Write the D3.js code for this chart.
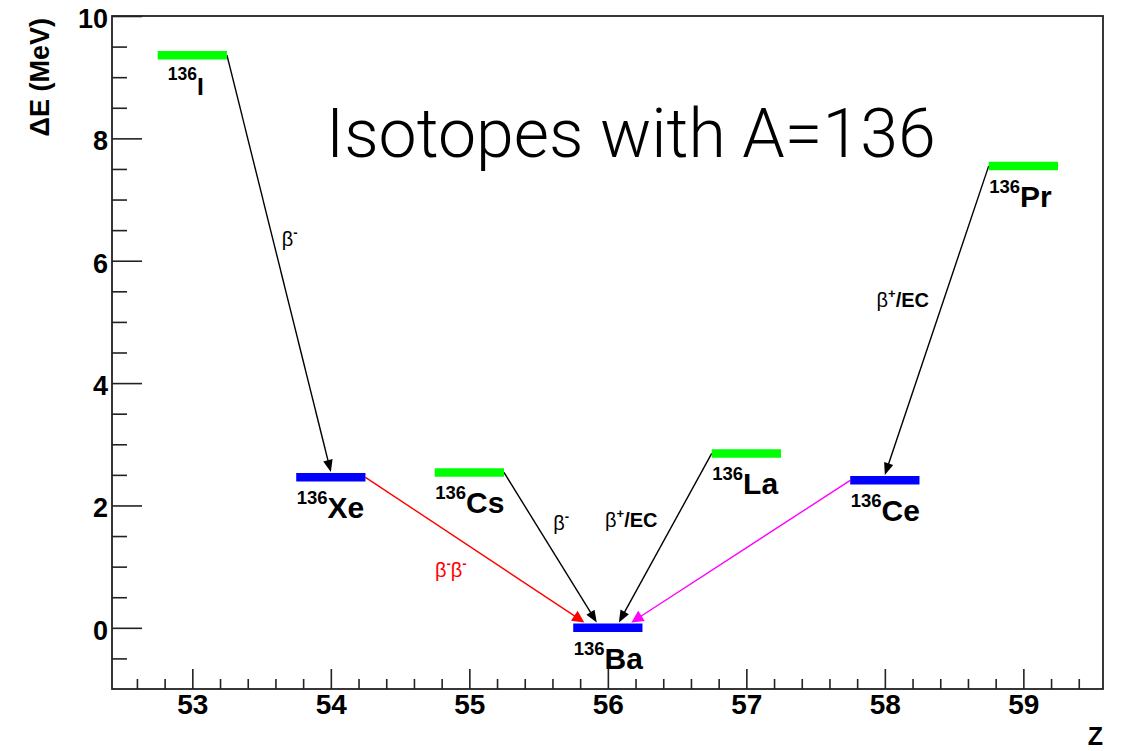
<!DOCTYPE html>
<html>
<head>
<meta charset="utf-8">
<script src="https://cdn.jsdelivr.net/npm/d3@7"></script>
<style>
  html, body { margin: 0; padding: 0; background: #fff; }
  svg { display: block; }
</style>
</head>
<body>
<script>
// Nuclides of the A = 136 isobar chain
const isotopes    = ["I", "Xe", "Cs", "Ba", "La", "Ce", "Pr"];
const protonZ     = [53, 54, 55, 56, 57, 58, 59];
const deltaE      = [9.36, 2.46, 2.54, 0.00, 2.85, 2.41, 7.55];   // MeV above 136Ba
const betaStable  = [false, true, false, true, false, true, false];
const massNumber  = "136";

// Decay transitions
const decayFrom   = ["I", "Xe", "Cs", "La", "Ce", "Pr"];
const decayTo     = ["Xe", "Ba", "Ba", "Ba", "Ba", "Ce"];
const arrivalZ    = [54.0, 55.83, 55.92, 56.08, 56.17, 58.0];
const decayKind   = ["single", "double", "single", "single", "double", "single"];

// Decay-mode annotations: [Z, ΔE] anchor, text parts
const modeLabelZ  = [53.645, 54.752, 55.606, 55.98, 57.94];
const modeLabelE  = [6.24, 0.83, 1.60, 1.64, 5.25];
const modeLabels  = [
  [["β", "n"], ["-", "s"]],
  [["β", "n"], ["-", "s"], ["β", "n"], ["-", "s"]],
  [["β", "n"], ["-", "s"]],
  [["β", "n"], ["+", "s"], ["/EC", "b"]],
  [["β", "n"], ["+", "s"], ["/EC", "b"]]
];
const modeLabelRed = [false, true, false, false, false];

// Axes
const zDomain = [52.42, 59.575];
const eDomain = [-1, 10];
const zMajor = [53, 54, 55, 56, 57, 58, 59];
const zMinor = [52.6, 52.8, 53.2, 53.4, 53.6, 53.8, 54.2, 54.4, 54.6, 54.8, 55.2, 55.4, 55.6, 55.8,
                56.2, 56.4, 56.6, 56.8, 57.2, 57.4, 57.6, 57.8, 58.2, 58.4, 58.6, 58.8, 59.2, 59.4];
const eMajor = [0, 2, 4, 6, 8, 10];
const eMinor = [-0.5, 0.5, 1, 1.5, 2.5, 3, 3.5, 4.5, 5, 5.5, 6.5, 7, 7.5, 8.5, 9, 9.5];

const W = 1121, H = 751;
const plot = { left: 112, right: 1103, top: 16, bottom: 689 };

const svg = d3.select("body").append("svg").attr("width", W).attr("height", H);

const x = d3.scaleLinear().domain(zDomain).range([plot.left, plot.right]);
const y = d3.scaleLinear().domain(eDomain).range([plot.bottom, plot.top]);

const FONT = "'Liberation Sans', Arial, Helvetica, sans-serif";

// Minor and major ticks, pointing into the frame
function styleAxis(g) {
  g.select(".domain").remove();
  g.selectAll(".tick line").attr("stroke", "#222").attr("stroke-width", 1.6);
}
svg.append("g").attr("transform", `translate(0,${plot.bottom})`)
  .call(d3.axisBottom(x).tickValues(zMinor).tickSize(-10).tickFormat(""))
  .call(styleAxis);
svg.append("g").attr("transform", `translate(0,${plot.bottom})`)
  .call(d3.axisBottom(x).tickValues(zMajor).tickSize(-20).tickPadding(5).tickFormat(d3.format("d")))
  .call(styleAxis)
  .call(g => g.selectAll("text").attr("font-family", FONT).attr("font-weight", "bold")
    .attr("font-size", 28).attr("fill", "#000"));
svg.append("g").attr("transform", `translate(${plot.left},0)`)
  .call(d3.axisLeft(y).tickValues(eMinor).tickSize(-15).tickFormat(""))
  .call(styleAxis);
svg.append("g").attr("transform", `translate(${plot.left},0)`)
  .call(d3.axisLeft(y).tickValues(eMajor).tickSize(-30).tickPadding(4).tickFormat(d3.format("d")))
  .call(styleAxis)
  .call(g => g.selectAll("text").attr("font-family", FONT).attr("font-weight", "bold")
    .attr("font-size", 27).attr("fill", "#000").attr("dy", "0.42em"));

// Frame
svg.append("rect")
  .attr("x", plot.left).attr("y", plot.top)
  .attr("width", plot.right - plot.left).attr("height", plot.bottom - plot.top)
  .attr("fill", "none").attr("stroke", "#222").attr("stroke-width", 1.8);

// Axis titles
svg.append("text")
  .attr("transform", `translate(49,18) rotate(-90)`)
  .attr("text-anchor", "end")
  .attr("font-family", FONT).attr("font-weight", "bold").attr("font-size", 27)
  .text("ΔE (MeV)");
svg.append("text")
  .attr("x", plot.right).attr("y", 745)
  .attr("text-anchor", "end")
  .attr("font-family", FONT).attr("font-weight", "bold").attr("font-size", 25)
  .text("Z");

// Title
svg.append("text")
  .attr("x", 326).attr("y", 157)
  .attr("font-family", "Roboto, 'Open Sans', Lato, sans-serif")
  .attr("font-weight", 300).attr("font-size", 68)
  .attr("fill", "#000")
  .text("Isotopes with A=136");

// Decay arrows
const idx = name => isotopes.indexOf(name);
const arrows = decayFrom.map((from, i) => {
  const a = idx(from), b = idx(decayTo[i]);
  const side = protonZ[b] > protonZ[a] ? 0.25 : -0.25;
  let color = "#000";
  if (decayKind[i] === "double") color = protonZ[b] > protonZ[a] ? "#ff0000" : "#ff00ff";
  return {
    x1: x(protonZ[a] + side), y1: y(deltaE[a]),
    x2: x(arrivalZ[i]), y2: y(deltaE[b]) - 5.4,
    color, wide: decayKind[i] === "double"
  };
});
const headLen = 12;
const arrowG = svg.append("g");
arrows.forEach(d => {
  const headHalf = d.wide ? 6 : 4.8;
  const dx = d.x2 - d.x1, dy = d.y2 - d.y1;
  const len = Math.hypot(dx, dy);
  const ux = dx / len, uy = dy / len;
  const bx = d.x2 - ux * headLen, by = d.y2 - uy * headLen;
  arrowG.append("line")
    .attr("x1", d.x1).attr("y1", d.y1).attr("x2", bx + ux * 2).attr("y2", by + uy * 2)
    .attr("stroke", d.color).attr("stroke-width", 1.4);
  arrowG.append("path")
    .attr("d", `M${d.x2},${d.y2}L${bx - uy * headHalf},${by + ux * headHalf}L${bx + uy * headHalf},${by - ux * headHalf}Z`)
    .attr("fill", d.color);
});

// Energy levels
svg.append("g").selectAll("line")
  .data(isotopes)
  .join("line")
  .attr("x1", (d, i) => x(protonZ[i] - 0.25))
  .attr("x2", (d, i) => x(protonZ[i] + 0.25))
  .attr("y1", (d, i) => y(deltaE[i]))
  .attr("y2", (d, i) => y(deltaE[i]))
  .attr("stroke", (d, i) => betaStable[i] ? "#0000ff" : "#00ff00")
  .attr("stroke-width", 8.5);

// Nuclide labels
const labelG = svg.append("g").attr("font-family", FONT).attr("font-weight", "bold");
isotopes.forEach((name, i) => {
  const small = name === "I";
  const t = labelG.append("text")
    .attr("x", x(protonZ[i] - 0.25) + (small ? 10 : 0.5))
    .attr("y", y(deltaE[i]) + (small ? 39.5 : 41));
  t.append("tspan").attr("font-size", small ? 17.5 : 18.5).attr("dy", small ? -15 : -14).text(massNumber);
  t.append("tspan").attr("font-size", small ? 24.5 : 30).attr("dy", small ? 15 : 14).text(name);
});

// Decay-mode labels
modeLabels.forEach((parts, i) => {
  const t = svg.append("text")
    .attr("x", x(modeLabelZ[i])).attr("y", y(modeLabelE[i]))
    .attr("font-family", FONT).attr("font-size", 20)
    .attr("fill", modeLabelRed[i] ? "#ff0000" : "#000");
  let raised = false;
  parts.forEach(([s, kind]) => {
    const sp = t.append("tspan").text(s);
    if (kind === "s") {
      sp.attr("font-size", 13).attr("font-weight", "bold").attr("dy", raised ? 0 : -9);
      raised = true;
    } else {
      sp.attr("dy", raised ? 9 : 0);
      raised = false;
      if (kind === "b") sp.attr("font-weight", "bold");
    }
  });
});
</script>
</body>
</html>
